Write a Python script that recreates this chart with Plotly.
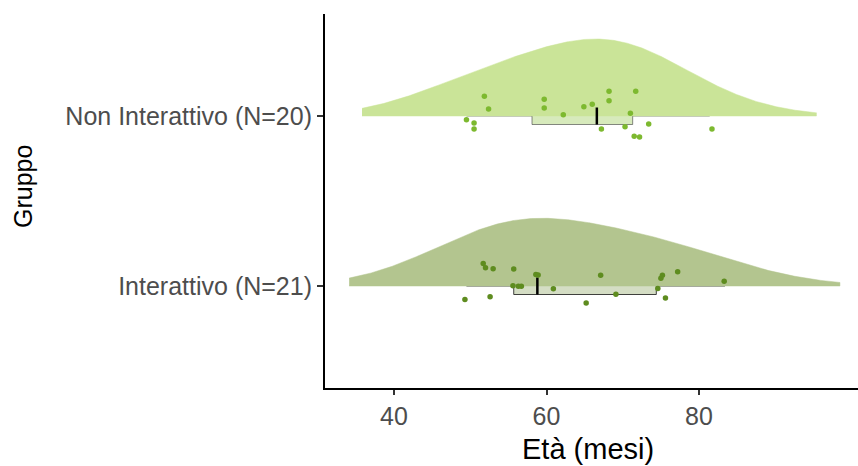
import numpy as np
import plotly.graph_objects as go

# ---------------- data ----------------
groups = ["Interattivo (N=21)", "Non Interattivo (N=20)"]
group_pos = [1, 2]

eta_interattivo = [51.7, 52.0, 53.0, 55.7, 58.6, 58.9, 55.6, 56.3, 56.7, 60.9, 67.1,
                   75.0, 75.2, 74.6, 77.2, 83.3, 49.3, 52.6, 65.2, 69.1, 75.6]
eta_non_interattivo = [51.85, 52.4, 49.5, 50.5, 50.5, 59.7, 59.7, 62.2, 64.9, 66.0,
                       68.2, 68.2, 71.7, 71.0, 67.2, 70.3, 73.4, 71.5, 72.2, 81.7]

# vertical jitter of the raindrops (group units)
jit_interattivo = [0.133, 0.108, 0.102, 0.100, 0.067, 0.065, 0.002, -0.002, -0.002, -0.016, 0.063,
                   0.045, 0.063, -0.014, 0.084, 0.028, -0.080, -0.063, -0.100, -0.049, -0.071]
jit_non_interattivo = [0.116, 0.041, -0.022, -0.041, -0.076, 0.098, 0.047, 0.008, 0.055, 0.069,
                       0.145, 0.090, 0.145, 0.016, -0.076, -0.063, -0.047, -0.119, -0.124, -0.076]

# box statistics
box_lower = [49.5, 49.5]
box_q1 = [55.7, 58.1]
box_median = [58.8, 66.6]
box_q3 = [74.4, 71.3]
box_upper = [83.4, 81.4]

x_ticks = [40, 60, 80]

values = [eta_interattivo, eta_non_interattivo]
jitters = [jit_interattivo, jit_non_interattivo]

violin_col = ["#b3c58f", "#cae498"]
box_fill = ["rgba(120,150,70,0.32)", "rgba(150,200,80,0.38)"]
box_line = ["rgba(20,20,20,0.8)", "rgba(60,60,60,0.6)"]
point_col = ["#5e8c1f", "#7db92f"]

# ---------------- density (gaussian kde, smoothed, cut = 3*bw.nrd0) ----------------
def kde(v, adjust=1.0):
    v = np.asarray(v, float)
    n = len(v)
    sd = v.std(ddof=1)
    iqr = np.subtract(*np.percentile(v, [75, 25]))
    bw0 = 0.9 * min(sd, iqr / 1.34) * n ** (-0.2)
    bw = bw0 * adjust
    g = np.linspace(v.min() - 3 * bw0, v.max() + 3 * bw0, 512)
    d = np.exp(-0.5 * ((g[:, None] - v[None, :]) / bw) ** 2).sum(1) / (n * bw * np.sqrt(2 * np.pi))
    return g, d

dens = [kde(v, 2.0) for v in values]
dmax = max(d.max() for _, d in dens)
half_width = 0.453

fig = go.Figure()

for i in range(2):
    g, d = dens[i]
    c = group_pos[i]
    xs = np.concatenate([g, g[::-1]])
    ys = np.concatenate([c + d / dmax * half_width, np.full(len(g), c)])
    fig.add_trace(go.Scatter(x=xs, y=ys, fill="toself", fillcolor=violin_col[i],
                             line=dict(color=violin_col[i], width=0.5), mode="lines",
                             hoverinfo="skip", showlegend=False))

for i in range(2):
    c = group_pos[i]
    fig.add_trace(go.Box(y=[c], q1=[box_q1[i]], median=[box_median[i]], q3=[box_q3[i]],
                         lowerfence=[box_lower[i]], upperfence=[box_upper[i]],
                         orientation="h", width=0.1, whiskerwidth=0,
                         fillcolor=box_fill[i], line=dict(color=box_line[i], width=1),
                         boxpoints=False, showlegend=False, hoverinfo="skip"))
    fig.add_trace(go.Scatter(x=[box_median[i], box_median[i]], y=[c - 0.05, c + 0.05],
                             mode="lines", line=dict(color="black", width=2.5),
                             showlegend=False, hoverinfo="skip"))

for i in range(2):
    c = group_pos[i]
    fig.add_trace(go.Scatter(x=values[i], y=[c + j for j in jitters[i]], mode="markers",
                             marker=dict(color=point_col[i], size=5.5),
                             showlegend=False))

W, H = 858, 466
left, right, top, bottom = 325, 858, 14, 388

fig.update_layout(
    width=W, height=H,
    margin=dict(l=left, r=W - right, t=top, b=H - bottom),
    plot_bgcolor="white", paper_bgcolor="white",
    font=dict(family="Liberation Sans, Arial, sans-serif"),
    xaxis=dict(range=[30.95, 100.85], tickvals=x_ticks, showgrid=False, zeroline=False,
               showline=True, linecolor="black", linewidth=2,
               ticks="outside", ticklen=5, tickwidth=1.5, tickcolor="#333333",
               tickfont=dict(size=25, color="#4d4d4d")),
    yaxis=dict(range=[0.4, 2.6], tickvals=group_pos, ticktext=groups, showgrid=False,
               zeroline=False, showline=True, linecolor="black", linewidth=2,
               ticks="outside", ticklen=6, tickwidth=1.5, tickcolor="#333333",
               tickfont=dict(size=25, color="#4d4d4d")),
    annotations=[
        dict(text="Gruppo", xref="paper", yref="paper",
             x=(23 - left) / (right - left), y=(bottom - 187) / (bottom - top),
             textangle=-90, showarrow=False, font=dict(size=25, color="black"),
             xanchor="center", yanchor="middle"),
        dict(text="Età (mesi)", xref="paper", yref="paper",
             x=(588 - left) / (right - left), y=(bottom - 449) / (bottom - top),
             showarrow=False, font=dict(size=29, color="black"),
             xanchor="center", yanchor="middle"),
    ],
)

fig.write_html("out.html", config={"displayModeBar": False},
               post_script="document.body.style.margin='0';document.body.style.overflow='hidden';")
